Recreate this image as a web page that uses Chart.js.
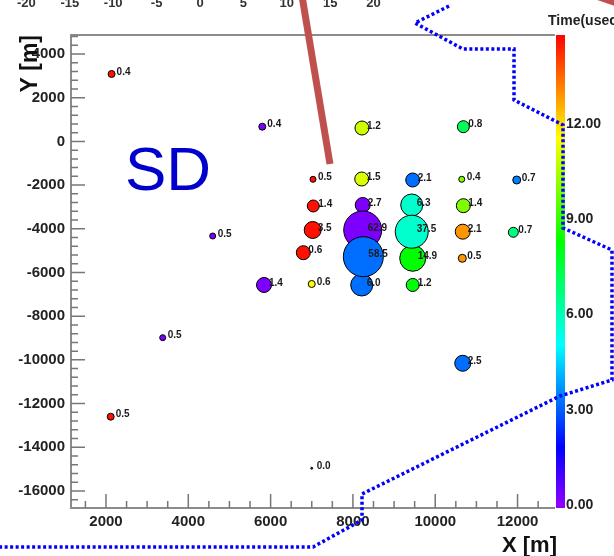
<!DOCTYPE html>
<html><head><meta charset="utf-8">
<script src="https://cdn.jsdelivr.net/npm/chart.js@4/dist/chart.umd.min.js"></script>
<style>html,body{margin:0;padding:0;background:#fff;overflow:hidden}#wrap{width:614px;height:556px}</style>
</head><body><div id="wrap"><canvas id="c" width="614" height="556"></canvas></div>
<script>
// ---- station data (metres, signal label, time in usec, marker size) ----
const stationX      = [2136, 5798, 4593, 3378, 2114, 6999, 7030, 8220, 10683, 8214, 9453, 10644, 11980, 7037, 8238, 10683, 7023, 10668, 11898, 6795, 10658, 6999, 5840, 9453, 10668, 8214, 8238, 8253, 9453, 9429, 9429];
const stationY      = [3085, 673, -4330, -8984, -12600, -14961, -1735, 613, 673, -1721, -1767, -1735, -1767, -2957, -2911, -2943, -4055, -4133, -4160, -5094, -5350, -6526, -6572, -6572, -10156, -6572, -4055, -5277, -5350, -2911, -4133];
const stationSignal = ['0.4','0.4','0.5','0.5','0.5','0.0','0.5','1.2','0.8','1.5','2.1','0.4','0.7','1.4','2.7','1.4','3.5','2.1','0.7','0.6','0.5','0.6','1.4','1.2','2.5','6.0','62.9','58.5','14.9','6.3','37.5'];
const stationTime   = [14.7, 0.3, 0.3, 0.3, 14.7, null, 14.7, 11.0, 7.3, 11.2, 3.3, 10.0, 3.5, 14.7, 0.3, 10.0, 14.7, 13.0, 6.8, 14.7, 13.0, 11.65, 0.3, 8.3, 3.3, 3.3, 0.3, 3.3, 8.4, 5.8, 5.8];
const stationSize   = [3.5, 3.5, 3, 3, 3.5, 1, 3, 7, 6, 7, 7, 3, 4, 6, 7.5, 7, 8.5, 7.5, 5, 7, 4, 3.5, 7.5, 6.5, 8, 11, 19, 20, 13, 11, 16.5];

// ---- axes ----
const xTicks = [2000, 4000, 6000, 8000, 10000, 12000];
const yTicks = [-16000, -14000, -12000, -10000, -8000, -6000, -4000, -2000, 0, 2000, 4000];
const timeTicks = [0, 3, 6, 9, 12];
const topAxisLabels = ['-20', '-15', '-10', '-5', '0', '5', '10', '15', '20'];

// ---- overlays (map coordinates, metres) ----
const borderX = [10335, 9508, 10675, 11914, 11914, 13105, 13105, 14295, 14295, 13032, 8221, 8221, 7030, -697];
const borderY = [6197, 5419, 4229, 4229, 1895, 751, -3964, -4971, -10921, -11653, -16139, -17329, -18565, -18565];
const trackX = [6763, 7443];
const trackY = [6655, -1034];
const track2X = [13639, 14611];
const track2Y = [6838, 6197];

const TIME_MAX = 14.9;
function timeColor(t) {
  if (t === null || t === undefined) return '#444';
  const v = Math.max(0, Math.min(TIME_MAX, t));
  const h = 275 * (1 - v / TIME_MAX);
  return 'hsl(' + h.toFixed(1) + ',100%,50%)';
}
const toPts = (xs, ys) => xs.map((x, i) => ({x: x, y: ys[i]}));
const FONT = 'Liberation Sans';

const decor = {
  id: 'decor',
  beforeDatasetsDraw(chart) {
    const ctx = chart.ctx, a = chart.chartArea, x = chart.scales.x, y = chart.scales.y, cb = chart.scales.cb;
    ctx.save();
    for (let py = Math.floor(a.top); py < a.bottom; py++) {
      ctx.fillStyle = timeColor(cb.getValueForPixel(py + 0.5));
      ctx.fillRect(a.right + 1, py, 9, 1);
    }
    ctx.strokeStyle = '#8c8c8c'; ctx.lineWidth = 2;
    ctx.beginPath();
    ctx.moveTo(a.right, a.top); ctx.lineTo(a.left, a.top); ctx.lineTo(a.left, a.bottom); ctx.lineTo(a.right, a.bottom);
    ctx.stroke();
    ctx.strokeStyle = '#777'; ctx.lineWidth = 1.5;
    ctx.beginPath();
    for (let v = 1500; v <= 12500; v += 500) {
      const px = x.getPixelForValue(v), len = v % 2000 === 0 ? 14 : 7;
      ctx.moveTo(px, a.bottom); ctx.lineTo(px, a.bottom - len);
    }
    for (let v = -16400; v <= 4800; v += 400) {
      const py = y.getPixelForValue(v), len = v % 2000 === 0 ? 14 : 7;
      ctx.moveTo(a.left, py); ctx.lineTo(a.left + len, py);
    }
    ctx.stroke();
    ctx.restore();
  },
  afterDatasetsDraw(chart) {
    const ctx = chart.ctx, a = chart.chartArea, x = chart.scales.x, y = chart.scales.y;
    ctx.save();
    // station labels
    ctx.font = 'bold 10px ' + FONT; ctx.fillStyle = '#1a1a1a';
    ctx.textAlign = 'left'; ctx.textBaseline = 'middle';
    stationSignal.forEach((s, i) => {
      ctx.fillText(s, x.getPixelForValue(stationX[i]) + 5, y.getPixelForValue(stationY[i]) - 2);
    });
    // SD
    ctx.font = '62px ' + FONT; ctx.fillStyle = '#0000cc'; ctx.textBaseline = 'alphabetic';
    ctx.fillText('SD', 125, 190);
    // axis titles
    ctx.fillStyle = '#111';
    ctx.font = 'bold 22px ' + FONT; ctx.textAlign = 'right'; ctx.textBaseline = 'middle';
    ctx.fillText('X [m]', a.right + 2, 546);
    ctx.save(); ctx.translate(31, a.top); ctx.rotate(-Math.PI / 2);
    ctx.font = 'bold 23px ' + FONT; ctx.textAlign = 'right';
    ctx.fillText('Y [m]', 0, 0); ctx.restore();
    // palette title
    ctx.font = 'bold 14px ' + FONT; ctx.textAlign = 'left'; ctx.fillStyle = '#222';
    ctx.fillText('Time(usec)', 548, 21);
    // cut-off axis of the neighbouring plot
    ctx.font = 'bold 13px ' + FONT; ctx.textAlign = 'center'; ctx.textBaseline = 'alphabetic'; ctx.fillStyle = '#333';
    topAxisLabels.forEach(l => { ctx.fillText(l, 200 + Number(l) * 8.68, 7); });
    ctx.restore();
  }
};

const tickFont = {family: FONT, size: 15, weight: 'bold'};
new Chart(document.getElementById('c'), {
  type: 'bubble',
  data: {datasets: [
    {type: 'line', data: toPts(borderX, borderY), borderColor: '#0000ff', borderWidth: 3.5, borderDash: [3, 2.5], pointRadius: 0, fill: false, clip: false, xAxisID: 'x', yAxisID: 'y'},
    {type: 'line', data: toPts(trackX, trackY), borderColor: '#c0504d', borderWidth: 7, pointRadius: 0, fill: false, clip: false, xAxisID: 'x', yAxisID: 'y'},
    {type: 'line', data: toPts(track2X, track2Y), borderColor: '#c0504d', borderWidth: 7, pointRadius: 0, fill: false, clip: false, xAxisID: 'x', yAxisID: 'y'},
    {type: 'bubble', data: stationX.map((v, i) => ({x: v, y: stationY[i], r: stationSize[i]})),
     backgroundColor: stationTime.map(timeColor), borderColor: '#000', borderWidth: 1, xAxisID: 'x', yAxisID: 'y'}
  ]},
  options: {
    responsive: false, animation: false, devicePixelRatio: 1, events: [],
    layout: {padding: {left: 0, top: 35, right: 0, bottom: 0}},
    plugins: {legend: {display: false}, tooltip: {enabled: false}},
    scales: {
      x: {type: 'linear', position: 'bottom', min: 1150, max: 12910,
          afterBuildTicks: s => { s.ticks = xTicks.map(v => ({value: v})); },
          afterFit: s => { s.height = 48; },
          ticks: {font: tickFont, color: '#222', padding: 5, maxRotation: 0, autoSkip: false, callback: v => String(v)},
          grid: {display: false, drawTicks: false}, border: {display: false}},
      y: {type: 'linear', position: 'left', min: -16780, max: 4870,
          afterBuildTicks: s => { s.ticks = yTicks.map(v => ({value: v})); },
          afterFit: s => { s.width = 71; },
          ticks: {font: tickFont, color: '#222', padding: 6, autoSkip: false, callback: v => String(v)},
          grid: {display: false, drawTicks: false}, border: {display: false}},
      cb: {type: 'linear', position: 'right', min: 0, max: TIME_MAX,
          afterBuildTicks: s => { s.ticks = timeTicks.map(v => ({value: v})); },
          afterFit: s => { s.width = 59; },
          ticks: {font: {family: FONT, size: 14, weight: 'bold'}, color: '#222', padding: 11, labelOffset: -3, autoSkip: false, callback: v => Number(v).toFixed(2)},
          grid: {display: false, drawTicks: false}, border: {display: false}}
    }
  },
  plugins: [decor]
});
</script></body></html>
